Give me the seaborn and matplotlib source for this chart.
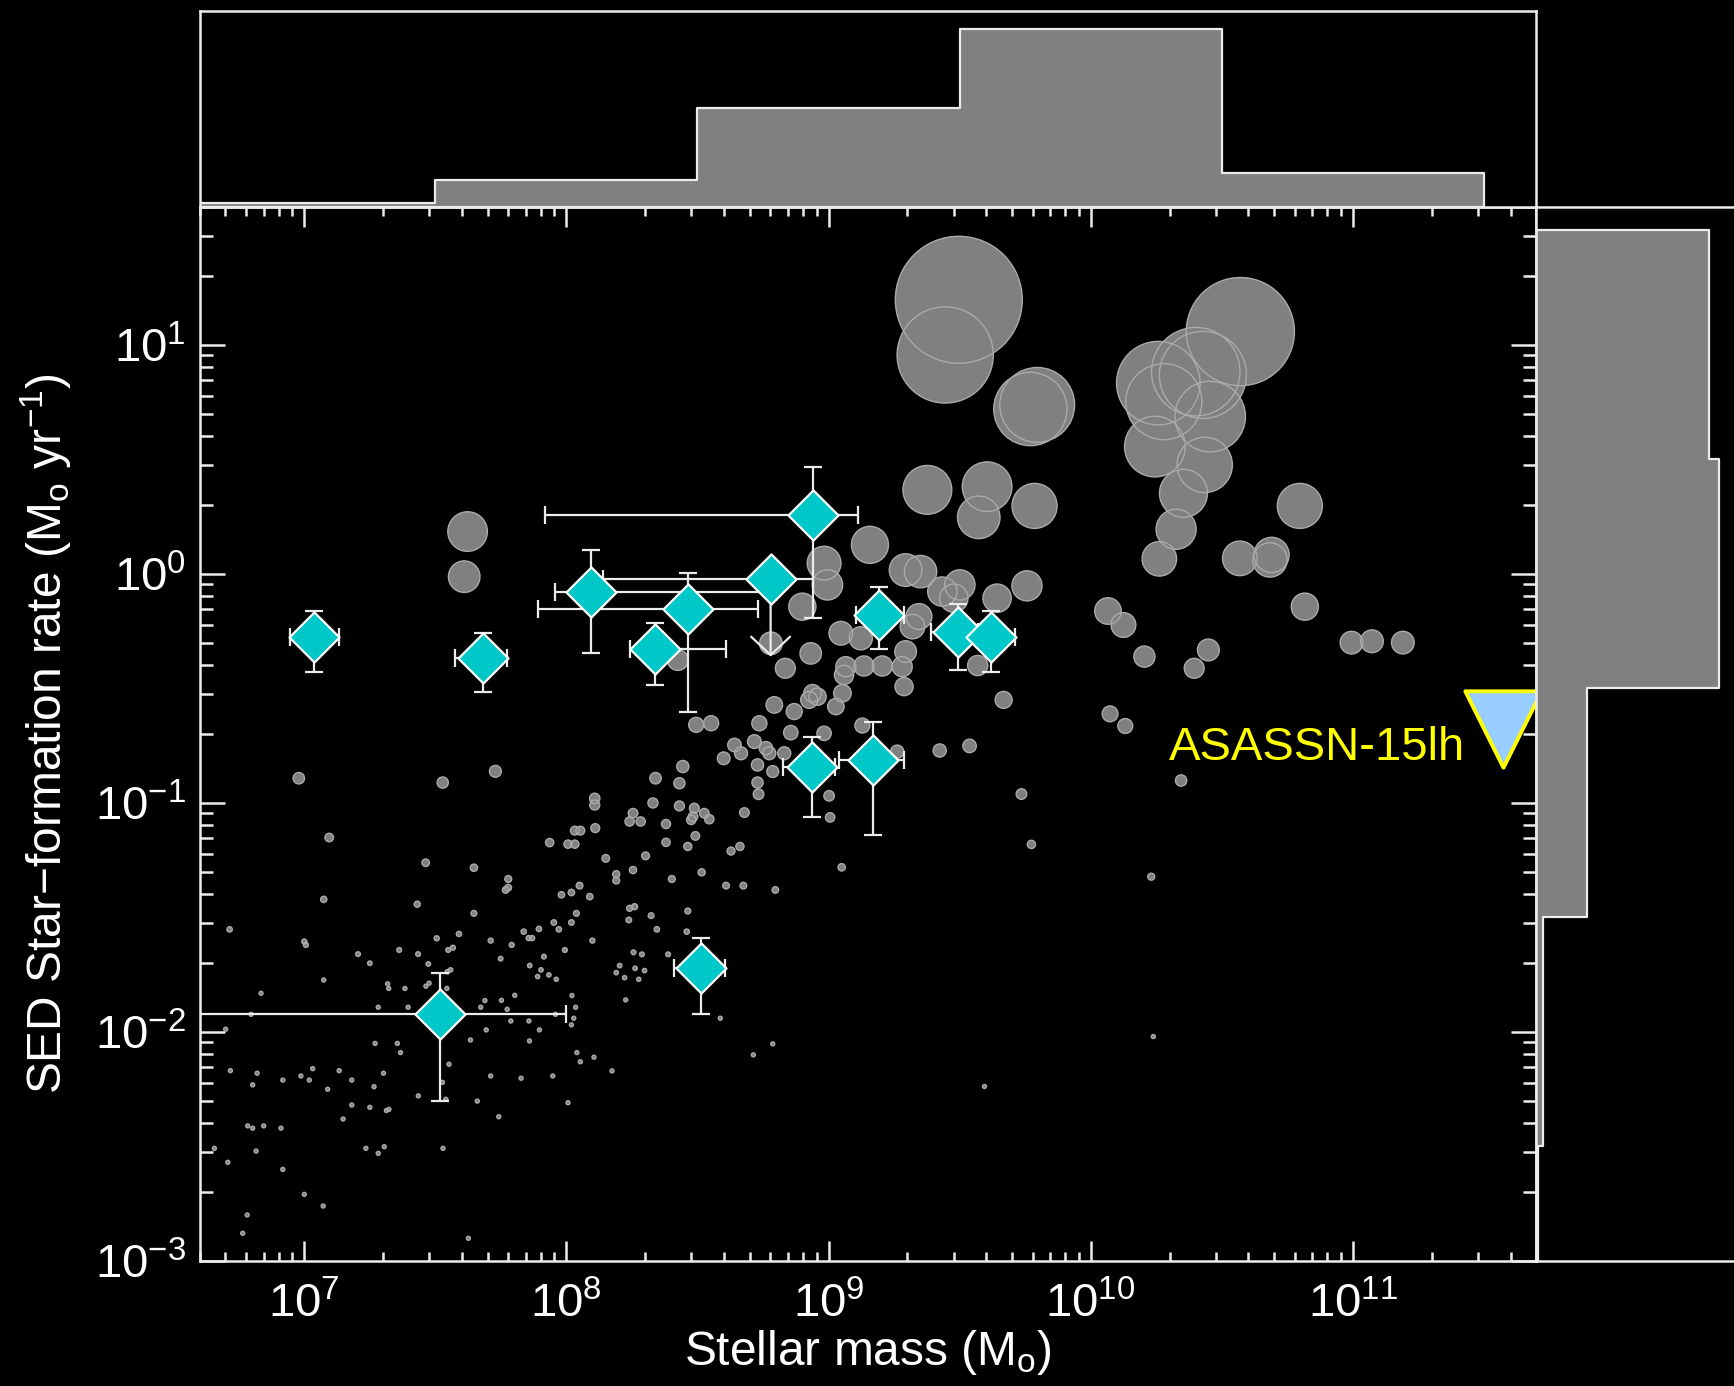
import numpy as np
import pandas as pd
import matplotlib
matplotlib.use("Agg")
import matplotlib.pyplot as plt
from matplotlib.ticker import LogLocator, NullFormatter
import seaborn as sns

# ---------------------------------------------------------------
# Comparison host-galaxy sample: log10 stellar mass, log10 SFR
# ---------------------------------------------------------------
host_log_mass = [
    7.095, 7.074, 6.715, 7.006, 7.000, 6.835, 7.074, 6.797, 6.700, 6.718,
    6.820, 6.803, 6.918, 6.987, 7.019, 7.032, 7.133, 7.181, 7.089, 7.302,
    7.266, 7.181, 7.250, 7.313, 7.323, 7.148, 6.784, 6.803, 6.845, 6.911,
    6.657, 6.816, 6.708, 6.918, 7.235, 7.282, 7.305, 7.000, 7.072, 6.782,
    6.765, 7.529, 7.626, 7.435, 7.552, 7.527, 7.540, 7.660, 7.742, 7.711,
    7.827, 7.948, 7.634, 7.859, 7.694, 7.788, 7.857, 7.897, 7.673, 7.689,
    7.752, 7.803, 7.774, 7.958, 7.270, 7.355, 7.367, 7.396, 7.282, 7.318,
    7.322, 7.384, 7.205, 7.250, 7.362, 7.434, 7.473, 7.476, 7.464, 7.546,
    7.558, 7.544, 7.505, 7.549, 7.567, 7.590, 7.463, 7.431, 7.647, 7.647,
    7.711, 7.778, 7.768, 7.778, 7.791, 7.749, 7.837, 7.856, 7.869, 7.895,
    7.860, 7.903, 7.914, 7.890, 7.933, 7.961, 7.952, 7.971, 7.936,
    8.444, 8.340, 8.431, 8.108, 8.108, 8.330, 8.431, 8.488, 8.526, 8.545,
    8.476, 8.483, 8.254, 8.241, 8.283, 8.380, 8.110, 8.032, 8.053, 8.006,
    8.032, 8.492, 8.380, 8.463, 8.150, 8.302, 8.628, 8.662, 8.679, 8.729,
    8.729, 8.733, 8.787, 9.002, 9.006, 9.050, 8.797, 8.675, 8.609, 8.516,
    8.402, 8.254, 8.190, 8.190, 8.050, 8.019, 7.981, 8.089, 8.241, 8.260,
    8.038, 8.019, 8.238, 8.323, 8.345, 8.463, 8.459, 8.099, 7.994, 8.256,
    8.288, 8.388, 8.203, 8.190, 8.262, 8.298, 8.222, 8.276, 8.226, 8.021,
    8.035, 8.028, 8.019, 8.587, 8.787, 8.713, 8.040, 8.053, 8.105, 8.174,
    8.006,
    8.983, 8.996, 8.900, 9.047, 9.123, 8.932, 8.835, 8.780, 8.425, 9.066,
    9.059, 9.135, 9.205, 9.053, 9.028, 8.939, 8.958, 8.926, 8.869, 8.793,
    8.495, 8.552, 8.736, 8.856, 8.983, 9.129, 8.641, 8.666, 8.600, 8.717,
    8.761, 8.774, 8.831, 9.262, 9.158,
    9.377, 9.605, 9.573, 9.786, 9.351, 9.294, 9.434, 9.501, 9.478, 9.643,
    9.757, 9.345, 9.320, 9.294, 9.281, 9.288, 9.569, 9.668, 9.538, 9.424,
    9.736, 9.774, 10.066, 10.125, 10.205, 10.449, 10.395, 10.074, 10.132, 10.345,
    10.817, 10.569, 10.684, 10.690, 10.326, 10.262, 10.354, 10.798,
    9.497, 9.445, 9.796, 9.770, 10.571, 10.258, 10.401, 10.428, 10.456, 10.279,
    10.245, 10.435,
    10.995, 11.073, 11.191, 10.231, 10.239, 9.595, 7.623, 7.610, 6.979, 7.528,
    7.729,
]
host_log_sfr = [
    -1.151, -1.421, -1.552, -1.620, -1.605, -1.831, -1.773, -1.923, -1.988, -2.169,
    -2.180, -2.231, -2.210, -2.192, -2.210, -2.160, -2.169, -2.210, -2.250, -2.180,
    -2.239, -2.319, -2.329, -2.343, -2.338, -2.380, -2.410, -2.420, -2.410, -2.420,
    -2.508, -2.520, -2.569, -2.600, -2.508, -2.530, -2.501, -2.709, -2.760, -2.799,
    -2.879, -2.508, -2.901, -2.279, -2.141, -2.220, -2.294, -2.302, -2.370, -2.192,
    -2.202, -2.192, -2.035, -2.039, -1.991, -1.952, -1.952, -1.991, -1.892, -1.863,
    -1.862, -1.840, -1.901, -1.923, -2.050, -2.050, -2.090, -1.892, -1.892, -1.790,
    -1.810, -1.810, -1.660, -1.700, -1.642, -1.660, -1.703, -1.787, -1.800, -1.737,
    -1.729, -1.810, -1.591, -1.642, -1.632, -1.572, -1.261, -1.442, -1.283, -1.482,
    -1.601, -1.332, -1.380, -1.370, -1.620, -1.680, -1.562, -1.590, -1.590, -1.550,
    -1.710, -1.729, -1.671, -1.758, -1.751, -1.770, -1.522, -1.552, -1.173,
    -0.841, -0.892, -0.914, -0.980, -1.009, -1.000, -1.013, -1.023, -1.045, -1.071,
    -1.074, -1.060, -1.045, -1.081, -1.081, -1.092, -1.110, -1.121, -1.121, -1.180,
    -1.180, -1.144, -1.172, -1.190, -1.242, -1.231, -1.210, -1.190, -1.042, -0.834,
    -0.911, -0.962, -0.863, -0.969, -1.063, -1.281, -1.380, -1.361, -1.361, -1.303,
    -1.332, -1.293, -1.311, -1.339, -1.361, -1.391, -1.401, -1.409, -1.460, -1.453,
    -1.482, -1.522, -1.511, -1.492, -1.552, -1.472, -1.562, -1.601, -1.642, -1.652,
    -1.661, -1.661, -1.710, -1.741, -1.722, -1.732, -1.763, -1.770, -1.860, -1.841,
    -1.892, -1.940, -1.969, -1.940, -2.052, -2.100, -2.090, -2.130, -2.110, -2.170,
    -2.309,
    0.047, -0.048, -0.143, -0.259, -0.281, -0.347, -0.412, -0.303, -0.376, -0.405,
    -0.441, -0.402, -0.402, -0.521, -0.579, -0.521, -0.536, -0.550, -0.601, -0.572,
    -0.659, -0.652, -0.652, -0.693, -0.696, -0.662, -0.747, -0.783, -0.805, -0.732,
    -0.761, -0.783, -0.783, -0.776, 0.127,
    0.367, 0.381, 0.247, 0.297, 0.010, 0.017, -0.077, -0.048, -0.106, -0.106,
    -0.052, -0.186, -0.230, -0.339, -0.405, -0.492, -0.400, -0.550, -0.751, -0.771,
    -0.961, -1.181, -0.162, -0.223, -0.361, -0.332, -0.412, -0.611, -0.664, -0.902,
    -0.143, 0.068, 0.061, 0.083, 0.195, 0.066, 0.352, 0.297,
    1.197, 0.956, 0.738, 0.720, 1.058, 0.833, 0.883, 0.869, 0.687, 0.752,
    0.556, 0.476,
    -0.300, -0.294, -0.300, -1.322, -2.020, -2.238, 0.185, -0.012, -0.892, -0.911,
    -0.862,
]

# ---------------------------------------------------------------
# SLSN hosts (log10 values) with asymmetric uncertainties
# ---------------------------------------------------------------
slsn_log_mass = [7.036, 7.680, 8.094, 8.337, 8.463, 8.779, 8.939, 9.193,
                 9.493, 9.618, 8.935, 9.171, 8.514, 7.516]
slsn_mass_lo = [6.945, 7.576, 7.958, 8.241, 7.890, 8.140, 7.919, 9.104,
                9.392, 9.520, 8.827, 9.040, 8.412, 6.400]
slsn_mass_hi = [7.132, 7.773, 8.800, 8.609, 8.730, 8.940, 9.113, 9.288,
                9.570, 9.713, 9.025, 9.288, 8.606, 8.000]
slsn_log_sfr = [-0.277, -0.365, -0.078, -0.329, -0.154, -0.023, 0.258, -0.179,
                -0.252, -0.274, -0.841, -0.812, -1.722, -1.923]
slsn_sfr_lo = [-0.427, -0.517, -0.346, -0.485, -0.601, -0.361, -0.194, -0.329,
               -0.419, -0.429, -1.060, -1.142, -1.921, -2.301]
slsn_sfr_hi = [-0.160, -0.256, 0.105, -0.216, 0.006, -0.023, 0.468, -0.058,
               -0.133, -0.164, -0.710, -0.648, -1.591, -1.744]
slsn_sfr_upper_limit = [False, False, False, False, False, True, False, False,
                        False, False, False, False, False, False]

# ASASSN-15lh host
asassn_log_mass = 11.572
asassn_log_sfr = -0.676

# Marginal distributions (fraction per 1-dex bin, bins centred on these values)
mass_bin_log = [7, 8, 9, 10, 11]
mass_hist_frac = [0.011, 0.08, 0.29, 0.52, 0.10]
sfr_bin_log = [-3, -2, -1, 0, 1]
sfr_hist_frac = [0.006, 0.017, 0.128, 0.46, 0.435]

# ---------------------------------------------------------------
sns.set_theme(style="ticks")
plt.rcParams["font.family"] = ["Liberation Sans", "DejaVu Sans"]
plt.rcParams["mathtext.fontset"] = "custom"
plt.rcParams["mathtext.rm"] = "Liberation Sans"
plt.rcParams["mathtext.it"] = "Liberation Sans:italic"
plt.rcParams["mathtext.bf"] = "Liberation Sans:bold"
plt.rcParams["mathtext.default"] = "regular"
plt.rcParams["axes.unicode_minus"] = True

FG = "#ececec"
GRAY = "#808080"
DPI = 100
W, H = 1734, 1386
FS = 34.5


def box(x0, y0, x1, y1):
    return [x0 / W, 1 - y1 / H, (x1 - x0) / W, (y1 - y0) / H]


fig = plt.figure(figsize=(W / DPI, H / DPI), dpi=DPI, facecolor="black")
ax = fig.add_axes(box(200, 207, 1536, 1261))
ax_top = fig.add_axes(box(200, 11, 1536, 207))
ax_right = fig.add_axes(box(1536, 207, 1734, 1261))
for a in (ax, ax_top, ax_right):
    a.set_facecolor("black")
    for sp in a.spines.values():
        sp.set_color(FG)
        sp.set_linewidth(1.8)

# ---- comparison sample: marker area proportional to SFR ----
hosts = pd.DataFrame({"mass": 10 ** np.array(host_log_mass),
                      "sfr": 10 ** np.array(host_log_sfr)})
radius_px = np.maximum(2.0, 16.0 * np.sqrt(hosts["sfr"].to_numpy()))
areas = (2 * radius_px * 72 / DPI) ** 2
sns.scatterplot(data=hosts, x="mass", y="sfr", s=areas, color=GRAY,
                edgecolor="none", linewidth=0, ax=ax, legend=False, zorder=2)
sns.scatterplot(data=hosts, x="mass", y="sfr", s=areas, color="#aaaaaa",
                facecolor="none", edgecolor="#aaaaaa", linewidth=1.0,
                ax=ax, legend=False, zorder=2.5)

# ---- SLSN hosts ----
slsn = pd.DataFrame({
    "mass": 10 ** np.array(slsn_log_mass),
    "sfr": 10 ** np.array(slsn_log_sfr),
    "m_lo": 10 ** np.array(slsn_mass_lo),
    "m_hi": 10 ** np.array(slsn_mass_hi),
    "s_lo": 10 ** np.array(slsn_sfr_lo),
    "s_hi": 10 ** np.array(slsn_sfr_hi),
    "ulim": slsn_sfr_upper_limit,
})
err_kw = dict(fmt="none", ecolor=FG, elinewidth=1.6, capsize=6.5,
              capthick=1.6, zorder=3)
ax.errorbar(slsn["mass"], slsn["sfr"],
            xerr=[slsn["mass"] - slsn["m_lo"], slsn["m_hi"] - slsn["mass"]],
            **err_kw)
det = slsn[~slsn["ulim"]]
ax.errorbar(det["mass"], det["sfr"],
            yerr=[det["sfr"] - det["s_lo"], det["s_hi"] - det["sfr"]],
            **err_kw)
for _, row in slsn[slsn["ulim"]].iterrows():
    ax.annotate("", xy=(row["mass"], row["s_lo"]), xytext=(row["mass"], row["sfr"]),
                arrowprops=dict(arrowstyle="->,head_length=0.66,head_width=0.7",
                                color=FG, lw=1.6, shrinkA=0, shrinkB=0,
                                mutation_scale=20), zorder=3)
sns.scatterplot(data=slsn, x="mass", y="sfr", marker="D", s=650,
                color="#00c8c8", edgecolor="white", linewidth=1.6,
                ax=ax, legend=False, zorder=4)

# ---- ASASSN-15lh ----
asassn = pd.DataFrame({"mass": [10 ** asassn_log_mass], "sfr": [10 ** asassn_log_sfr]})
sns.scatterplot(data=asassn, x="mass", y="sfr", marker="v",
                s=55 ** 2, color="#99ccff", edgecolor="#ffff00", linewidth=2.8,
                ax=ax, legend=False, zorder=6, clip_on=False)
ax.annotate("ASASSN-15lh", xy=(10 ** asassn_log_mass, 10 ** asassn_log_sfr),
            xytext=(-27, -22.5), textcoords="offset points", ha="right",
            va="baseline", color="#ffff00", fontsize=34, zorder=6)

# ---- main axes formatting ----
ax.set_xscale("log")
ax.set_yscale("log")
ax.set_xlim(4e6, 5e11)
ax.set_ylim(1e-3, 40)
for axis in (ax.xaxis, ax.yaxis):
    axis.set_major_locator(LogLocator(base=10, numticks=20))
    axis.set_minor_locator(LogLocator(base=10, subs=np.arange(2, 10), numticks=20))
    axis.set_minor_formatter(NullFormatter())
ax.tick_params(which="both", direction="in", top=True, right=True,
               color=FG, width=1.8, labelcolor="white", labelsize=34)
ax.tick_params(axis="x", which="major", length=14.5, pad=15)
ax.tick_params(axis="x", which="minor", length=6.5)
ax.tick_params(axis="y", which="major", length=18, pad=10)
ax.tick_params(axis="y", which="minor", length=9.5)
ax.set_xlabel("Stellar mass (M$_{\\mathrm{o}}$)", fontsize=FS, color="white",
              labelpad=1)
ax.set_ylabel("SED Star\u2212formation rate (M$_{\\mathrm{o}}$ yr$^{-1}$)",
              fontsize=FS, color="white", labelpad=15)

# ---- marginal histograms ----
mass_df = pd.DataFrame({"logm": mass_bin_log, "frac": mass_hist_frac})
mass_edges = [c - 0.5 for c in mass_bin_log] + [mass_bin_log[-1] + 0.5]
sns.histplot(data=mass_df, x="logm", weights="frac", bins=mass_edges,
             element="step", fill=True, color=GRAY, alpha=1,
             edgecolor=FG, linewidth=1.6, ax=ax_top)
ax_top.set_xlim(np.log10(4e6), np.log10(5e11))
ax_top.set_ylim(0, max(mass_hist_frac) * 1.1)

sfr_df = pd.DataFrame({"logs": sfr_bin_log, "frac": sfr_hist_frac})
sfr_edges = [c - 0.5 for c in sfr_bin_log] + [sfr_bin_log[-1] + 0.5]
sns.histplot(data=sfr_df, y="logs", weights="frac", bins=sfr_edges,
             element="step", fill=True, color=GRAY, alpha=1,
             edgecolor=FG, linewidth=1.6, ax=ax_right)
ax_right.set_ylim(-3, np.log10(40))
ax_right.set_xlim(0, max(sfr_hist_frac) * 1.08)
ax_right.spines["right"].set_visible(False)

for a in (ax_top, ax_right):
    a.set_xticks([])
    a.set_yticks([])
    a.set_xlabel("")
    a.set_ylabel("")

fig.savefig("out.png", dpi=DPI, facecolor="black")
